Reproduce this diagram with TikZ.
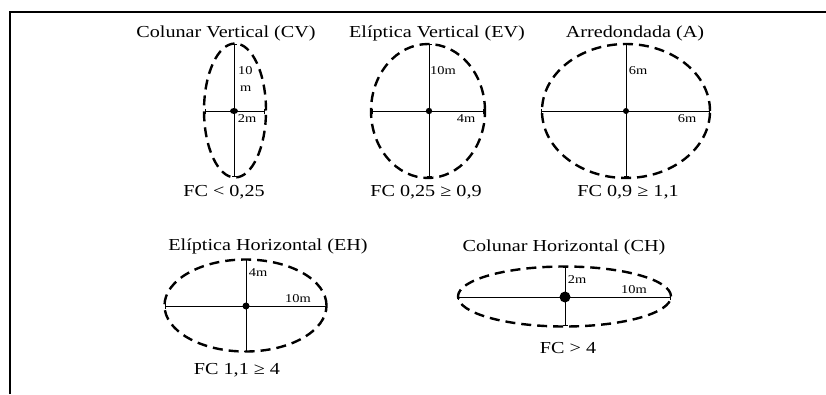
\documentclass[tikz,border=0pt]{standalone}
\usepackage{fontspec}
\setmainfont[FakeStretch=1.2]{Liberation Serif}
\usepackage{tikz}
\usetikzlibrary{arrows.meta}

\begin{document}
\begin{tikzpicture}[x=1pt,y=-1pt,
    crown/.style={draw, line width=2.4pt, dash pattern=on 10pt off 6pt},
    axisline/.style={line width=1pt, {Bar[width=5pt]}-{Bar[width=5pt]}},
    title/.style={font=\fontsize{16.8}{18}\selectfont},
    small/.style={font=\fontsize{12}{13}\selectfont, inner sep=0pt}]
    \useasboundingbox (0,0) rectangle (826,394);
    \draw[line width=2pt] (10,394) -- (10,12) -- (826,12);

    % top row
    \node[title] (tcv) at (226,33) {Colunar Vertical (CV)};
    \node[title] (tev) at (437,33) {Elíptica Vertical (EV)};
    \node[title] (ta) at (635,33) {Arredondada (A)};

    \draw[crown] (235,110.5) ellipse [x radius=31pt, y radius=67pt];
    \draw[axisline] (234,44) -- (234,177);
    \draw[axisline] (205,111) -- (265,111);
    \fill (234,111) ellipse [x radius=4pt, y radius=3pt];
    \node[small, anchor=west] at (238,71) {10};
    \node[small, anchor=west] at (240,89) {m};
    \node[small] at (247,119) {2m};

    \draw[crown] (428,111) ellipse [x radius=57pt, y radius=67pt];
    \draw[axisline] (429,44) -- (429,177);
    \draw[axisline] (372,111) -- (484,111);
    \fill (429,111) circle (3.2pt);
    \node[small] at (443,71) {10m};
    \node[small] at (466,119) {4m};

    \draw[crown] (626,111) ellipse [x radius=84pt, y radius=67pt];
    \draw[axisline] (626,44) -- (626,177);
    \draw[axisline] (541,111) -- (710,111);
    \fill (626,111) circle (3pt);
    \node[small] at (638,71) {6m};
    \node[small] at (687,119) {6m};

    \node[title] (fcv) at (224,192) {FC < 0,25};
    \node[title] (fev) at (426,192) {FC 0,25 ≥ 0,9};
    \node[title] (fa) at (628,192) {FC 0,9 ≥ 1,1};

    % bottom row
    \node[title] (teh) at (268,246) {Elíptica Horizontal (EH)};
    \node[title] (tch) at (564,247) {Colunar Horizontal (CH)};

    \draw[crown] (245.5,305.5) ellipse [x radius=81pt, y radius=46pt];
    \draw[axisline] (246,259) -- (246,352);
    \draw[axisline] (164.5,306) -- (326.5,306);
    \fill (246,306) circle (3.5pt);
    \node[small] at (258,273) {4m};
    \node[small] at (298,299) {10m};

    \draw[crown] (564.5,296.5) ellipse [x radius=106.5pt, y radius=30pt];
    \draw[axisline] (565,267) -- (565,326);
    \draw[axisline] (458,297) -- (671,297);
    \fill (565,297) circle (5.5pt);
    \node[small] at (577,280) {2m};
    \node[small] at (634,290) {10m};

    \node[title] (feh) at (237,370) {FC 1,1 ≥ 4};
    \node[title] (fch) at (568,348) {FC > 4};
\end{tikzpicture}
\end{document}
